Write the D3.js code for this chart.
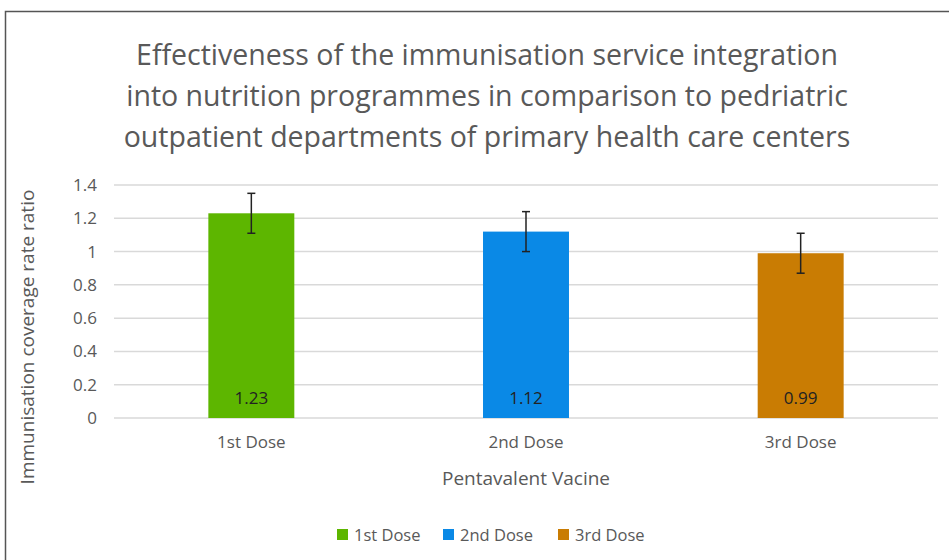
<!DOCTYPE html>
<html><head><meta charset="utf-8">
<script src="https://cdn.jsdelivr.net/npm/d3@7"></script>
<style>body{margin:0;background:#fff}svg{display:block}</style>
</head><body>
<svg id="c" width="949" height="560"></svg>
<script>
const categories = ["1st Dose", "2nd Dose", "3rd Dose"];
const values = [1.23, 1.12, 0.99];
const errLow = [1.11, 1.00, 0.87];
const errHigh = [1.35, 1.24, 1.11];
const colors = ["#5db600", "#0a89e6", "#c97c03"];
const yTicks = [0, 0.2, 0.4, 0.6, 0.8, 1, 1.2, 1.4];
const titleLines = ["Effectiveness of the immunisation service integration",
  "into nutrition programmes in comparison to pedriatric",
  "outpatient departments of primary health care centers"];

const font = "'Open Sans', sans-serif";
const svg = d3.select("#c");
svg.append("rect").attr("x", 5.5).attr("y", 11.5).attr("width", 1000).attr("height", 700)
  .attr("fill", "#fff").attr("stroke", "#555").attr("stroke-width", 1.5);

const x = d3.scaleBand().domain(categories).range([114, 938]).paddingInner(0.687).paddingOuter(0.3435);
const y = d3.scaleLinear().domain([0, 1.4]).range([418, 185]);

// gridlines
svg.append("g").selectAll("line").data(yTicks).join("line")
  .attr("x1", 114).attr("x2", 938).attr("y1", d => y(d)).attr("y2", d => y(d))
  .attr("stroke", "#d9d9d9").attr("stroke-width", 1.5);

// y axis labels
const yAxis = d3.axisLeft(y).tickValues(yTicks).tickSize(0).tickPadding(0).tickFormat(d => String(d));
const ya = svg.append("g").attr("transform", "translate(97,0)").call(yAxis);
ya.select(".domain").remove();
ya.selectAll("text").attr("font-family", font).attr("font-size", 17).attr("fill", "#595959");

// bars
const bw = x.bandwidth();
svg.append("g").selectAll("rect").data(categories).join("rect")
  .attr("x", d => x(d)).attr("width", bw)
  .attr("y", (d, i) => y(values[i])).attr("height", (d, i) => y(0) - y(values[i]))
  .attr("fill", (d, i) => colors[i]);

// error bars
const eg = svg.append("g").attr("stroke", "#222").attr("stroke-width", 1.5);
categories.forEach((c, i) => {
  const cx = x(c) + bw / 2;
  eg.append("line").attr("x1", cx).attr("x2", cx).attr("y1", y(errLow[i])).attr("y2", y(errHigh[i]));
  eg.append("line").attr("x1", cx - 4).attr("x2", cx + 4).attr("y1", y(errLow[i])).attr("y2", y(errLow[i]));
  eg.append("line").attr("x1", cx - 4).attr("x2", cx + 4).attr("y1", y(errHigh[i])).attr("y2", y(errHigh[i]));
});

// value labels
svg.append("g").selectAll("text").data(categories).join("text")
  .attr("x", d => x(d) + bw / 2).attr("y", 404)
  .attr("text-anchor", "middle").attr("font-family", font).attr("font-size", 17).attr("fill", "#222")
  .text((d, i) => values[i].toFixed(2));

// x axis
const xAxis = d3.axisBottom(x).tickSize(0).tickPadding(0);
const xa = svg.append("g").attr("transform", "translate(0,436)").call(xAxis);
xa.select(".domain").remove();
xa.selectAll("text").attr("font-family", font).attr("font-size", 17).attr("fill", "#595959").attr("dy", "0.71em");

// axis titles
svg.append("text").attr("x", 526).attr("y", 485).attr("text-anchor", "middle")
  .attr("font-family", font).attr("font-size", 19).attr("fill", "#595959").text("Pentavalent Vacine");
svg.append("text").attr("transform", "translate(34,337) rotate(-90)").attr("text-anchor", "middle")
  .attr("font-family", font).attr("font-size", 19).attr("fill", "#595959").text("Immunisation coverage rate ratio");

// title
svg.append("g").selectAll("text").data(titleLines).join("text")
  .attr("x", 487).attr("y", (d, i) => 65 + i * 41).attr("text-anchor", "middle")
  .attr("font-family", font).attr("font-size", 28.5).attr("fill", "#595959").text(d => d);

// legend
const legendX = [337, 443, 558];
const lg = svg.append("g").selectAll("g").data(categories).join("g")
  .attr("transform", (d, i) => `translate(${legendX[i]},535)`);
lg.append("rect").attr("x", 0).attr("y", -6).attr("width", 11).attr("height", 11).attr("fill", (d, i) => colors[i]);
lg.append("text").attr("x", 17).attr("y", 6).attr("font-family", font).attr("font-size", 16.5).attr("fill", "#595959").text(d => d);
</script>
</body></html>
